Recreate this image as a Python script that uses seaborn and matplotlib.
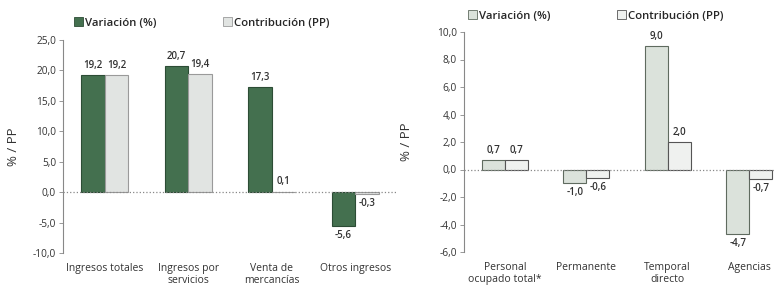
import pandas as pd
import matplotlib
matplotlib.use('Agg')
import matplotlib.pyplot as plt
import seaborn as sns

# Series y datos
series = ['Variación (%)', 'Contribución (PP)']

ingresos_cats = ['Ingresos totales', 'Ingresos por\nservicios', 'Venta de\nmercancías', 'Otros ingresos']
ingresos_var = [19.2, 20.7, 17.3, -5.6]
ingresos_con = [19.2, 19.4, 0.1, -0.3]

personal_cats = ['Personal\nocupado total*', 'Permanente', 'Temporal\ndirecto', 'Agencias']
personal_var = [0.7, -1.0, 9.0, -4.7]
personal_con = [0.7, -0.6, 2.0, -0.7]

left_ticks = [-10, -5, 0, 5, 10, 15, 20, 25]
right_ticks = [-6, -4, -2, 0, 2, 4, 6, 8, 10]

sns.set_theme(style='white')
plt.rcParams['font.family'] = ['Open Sans', 'DejaVu Sans']


def coma(v):
    return f'{v:.1f}'.replace('.', ',')


def panel(fig, rect, cats, var, con, ticks, colors, edges, legend_pos, colspace):
    ax = fig.add_axes(rect)
    df = pd.DataFrame({
        'Categoria': cats * 2,
        'Valor': var + con,
        'Serie': [series[0]] * len(cats) + [series[1]] * len(cats),
    })
    sns.barplot(data=df, x='Categoria', y='Valor', hue='Serie', palette=colors,
                width=0.56, ax=ax, saturation=1)
    for cont, ec in zip(ax.containers, edges):
        for p in cont:
            p.set_edgecolor(ec)
            p.set_linewidth(0.8)
        ax.bar_label(cont, labels=[coma(v) for v in cont.datavalues], padding=3,
                     fontsize=7, fontweight='semibold', color='#333333')

    ax.set_ylim(ticks[0], ticks[-1])
    ax.set_yticks(ticks)
    ax.set_yticklabels([coma(t) for t in ticks], fontsize=7.3, color='#333333')
    ax.set_xlim(-0.5, len(cats) - 0.5)
    ax.set_xlabel('')
    ax.set_ylabel('% / PP', fontsize=9.5, color='#333333')
    ax.tick_params(axis='x', length=0, pad=7, labelsize=7.5, labelcolor='#333333')
    ax.tick_params(axis='y', length=3, width=0.6, color='#888888', pad=2, left=True)
    for s in ['top', 'right', 'bottom']:
        ax.spines[s].set_visible(False)
    ax.spines['left'].set_color('#888888')
    ax.spines['left'].set_linewidth(0.8)
    ax.axhline(0, color='#888888', lw=0.9, ls=':')

    h, l = ax.get_legend_handles_labels()
    ax.get_legend().remove()
    for hd, ec in zip(h, edges):
        hd.set_edgecolor(ec)
        hd.set_linewidth(0.6)
    fig.legend(h, l, loc='center', bbox_to_anchor=legend_pos, ncol=2, frameon=False,
               handlelength=0.8, handleheight=0.8, handletextpad=0.2,
               columnspacing=colspace, prop={'weight': 'semibold', 'size': 8.2})
    return ax


fig = plt.figure(figsize=(7.75, 2.85), dpi=100)

ax1 = panel(fig, [63 / 775, 32 / 285, 334 / 775, 213 / 285],
            ingresos_cats, ingresos_var, ingresos_con, left_ticks,
            ['#44704f', '#e1e4e2'], ['#2c4c35', '#9a9a9a'],
            (202 / 775, 1 - 23 / 285), 5.8)
ax1.yaxis.set_label_coords(-0.13, 0.5)

ax2 = panel(fig, [464 / 775, 33 / 285, 326 / 775, 220 / 285],
            personal_cats, personal_var, personal_con, right_ticks,
            ['#dbe2db', '#eff1ef'], ['#5f6b5f', '#555555'],
            (596 / 775, 1 - 16 / 285), 5.8)
ax2.yaxis.set_label_coords(-0.155, 0.5)

fig.savefig('out.png', dpi=100)
